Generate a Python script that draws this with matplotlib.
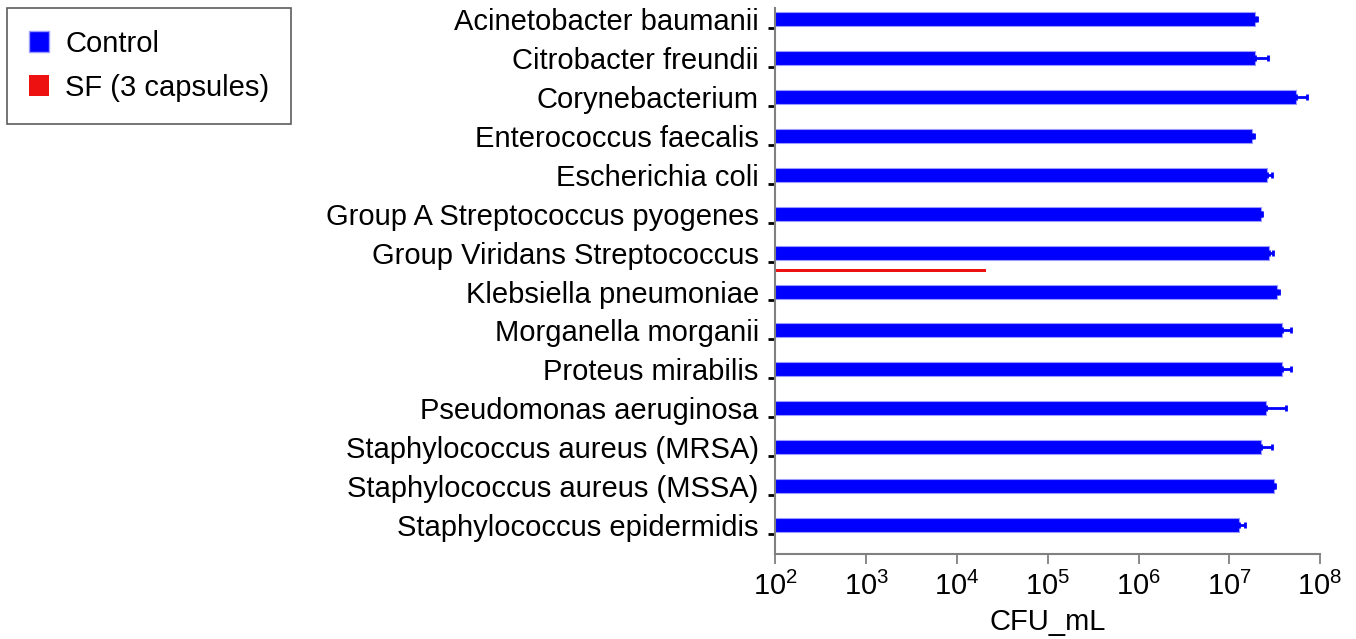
import numpy as np
import matplotlib
matplotlib.use('Agg')
import matplotlib.pyplot as plt
from matplotlib.patches import Patch

plt.rcParams['font.family'] = ['Liberation Sans', 'DejaVu Sans']
plt.rcParams['mathtext.fontset'] = 'custom'
plt.rcParams['mathtext.rm'] = 'Liberation Sans'
plt.rcParams['mathtext.it'] = 'Liberation Sans'

# data
species = ['Acinetobacter baumanii', 'Citrobacter freundii', 'Corynebacterium',
           'Enterococcus faecalis', 'Escherichia coli', 'Group A Streptococcus pyogenes',
           'Group Viridans Streptococcus', 'Klebsiella pneumoniae', 'Morganella morganii',
           'Proteus mirabilis', 'Pseudomonas aeruginosa', 'Staphylococcus aureus (MRSA)',
           'Staphylococcus aureus (MSSA)', 'Staphylococcus epidermidis']
control = [1.92e7, 1.92e7, 5.44e7, 1.77e7, 2.59e7, 2.22e7, 2.76e7,
           3.33e7, 3.85e7, 3.85e7, 2.52e7, 2.25e7, 3.09e7, 1.29e7]
control_err = [1.0e6, 7.5e6, 1.76e7, 1.0e6, 3.5e6, 0.8e6, 3.0e6,
               2.3e6, 9.4e6, 9.4e6, 1.67e7, 6.9e6, 1.2e6, 1.9e6]
sf = [0, 0, 0, 0, 0, 0, 2.07e4, 0, 0, 0, 0, 0, 0, 0]
xticks = [1e2, 1e3, 1e4, 1e5, 1e6, 1e7, 1e8]
xticklabels = ['10$^{2}$', '10$^{3}$', '10$^{4}$', '10$^{5}$', '10$^{6}$', '10$^{7}$', '10$^{8}$']

fig = plt.figure(figsize=(13.56, 6.39), dpi=100)
ax = fig.add_axes([0.5719, 0.133, 0.9735 - 0.5719, 0.9875 - 0.133])

y = np.arange(len(species))
off = 0.23
ax.barh(y - off, control, height=0.36, color='#0000ff', edgecolor='#9a9aff', linewidth=0.8)
ax.errorbar(control, y - off, xerr=[np.zeros(len(control)), control_err], fmt='none',
            ecolor='#0000ff', elinewidth=2, capsize=2, capthick=2)
ax.barh(y + off, sf, height=0.08, color='#ee1111', edgecolor='none')

ax.set_xscale('log')
ax.set_xlim(1e2, 1e8)
ax.set_ylim(len(species) - 0.49, -0.51)

ax.set_xticks(xticks)
ax.set_xticklabels(xticklabels, fontsize=21)
ax.xaxis.set_minor_locator(matplotlib.ticker.NullLocator())
ax.tick_params(axis='x', direction='out', length=7, width=1.3, color='#808080', pad=6)

# labels sit beside the blue bars, short tick marks at category centre
ax.set_yticks(y - off)
ax.set_yticklabels(species, fontsize=21)
ax.set_yticks(y, minor=True)
ax.tick_params(axis='y', which='major', length=0, pad=12)
ax.tick_params(axis='y', which='minor', direction='out', length=5, width=2, color='black')

for s in ['top', 'right']:
    ax.spines[s].set_visible(False)
for s in ['left', 'bottom']:
    ax.spines[s].set_color('#808080')
    ax.spines[s].set_linewidth(1.5)

ax.set_xlabel('CFU_mL', fontsize=21, labelpad=5)

handles = [Patch(facecolor='#0000ff', edgecolor='#9a9aff'), Patch(facecolor='#ee1111', edgecolor='none')]
leg = fig.legend(handles, ['Control', 'SF (3 capsules)'], loc='upper left',
                 bbox_to_anchor=(7 / 1356, 1 - 8 / 639), borderaxespad=0, fontsize=21,
                 frameon=True, fancybox=False, edgecolor='#333333', handlelength=0.7,
                 handleheight=0.7, handletextpad=0.55, borderpad=0.75, labelspacing=0.55)
leg.get_frame().set_linewidth(1.2)

fig.savefig('out.png', dpi=100)
